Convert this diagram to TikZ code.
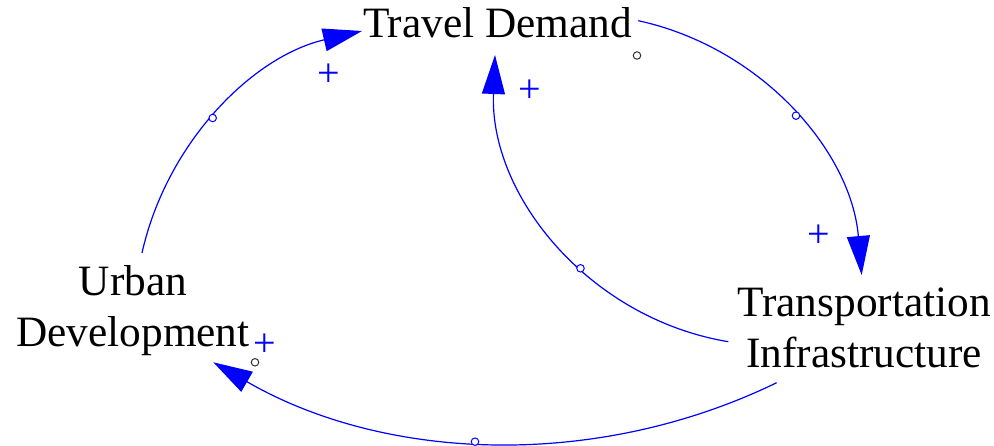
\documentclass[tikz,border=0pt]{standalone}
\usepackage{fontspec}
\setmainfont{Liberation Serif}
\usetikzlibrary{arrows.meta}
\definecolor{linkblue}{RGB}{0,0,255}
\tikzset{
  x=1pt, y=-1pt,
  varlabel/.style={inner sep=0pt, outer sep=0pt, align=center, text=black,
    font=\fontsize{43.3}{51}\selectfont},
  link/.style={draw=linkblue, line width=1.2pt,
    -{Triangle[length=39pt,width=23pt]}, fill=none},
  handle/.style={circle, draw=linkblue, fill=white, line width=1pt,
    inner sep=0pt, minimum size=7.5pt},
  marker/.style={circle, draw=black!80, fill=white, line width=1pt,
    inner sep=0pt, minimum size=7.5pt},
  polarity/.style={inner sep=0pt, text=linkblue,
    font=\fontsize{40}{40}\selectfont}
}
\begin{document}
\begin{tikzpicture}
\useasboundingbox (0,0) rectangle (994,446);
% variables
\node[varlabel, anchor=base] (td) at (497.5,37.3) {Travel Demand};
\node[varlabel] (ud) at (133,310.8) {Urban\\Development};
\node[varlabel] (ti) at (864,328) {Transportation\\Infrastructure};
% connector end points
\coordinate (ud-out) at (142,253);
\coordinate (td-in1) at (362,31);
\coordinate (td-out) at (638.3,20.7);
\coordinate (ti-in) at (861.7,275);
\coordinate (ti-out1) at (728.3,341.7);
\coordinate (td-in2) at (495,55);
\coordinate (ti-out2) at (776.7,382.7);
\coordinate (ud-in) at (213.3,362.3);
% connectors
\draw[link] (ud-out) .. controls (166.6,142.9) and (252.2,56.6) .. (td-in1);
\draw[link] (td-out) .. controls (760.5,47.3) and (851.0,150.4) .. (ti-in);
\draw[link] (ti-out1) .. controls (589.4,318.6) and (489.4,195.7) .. (td-in2);
\draw[link] (ti-out2) .. controls (597.1,469.8) and (386.1,462.1) .. (ud-in);
% handles
\node[handle] (h1) at (212.7,118) {};
\node[handle] (h2) at (796,115.7) {};
\node[handle] (h3) at (580.5,268.3) {};
\node[handle] (h4) at (475,441.7) {};
\node[marker] (m1) at (637,55.5) {};
\node[marker] (m2) at (255,362.3) {};
% polarities
\node[polarity] (p1) at (328.3,75) {+};
\node[polarity] (p2) at (530,91.7) {+};
\node[polarity] (p3) at (819,236) {+};
\node[polarity] (p4) at (265,345) {+};
\end{tikzpicture}
\end{document}
